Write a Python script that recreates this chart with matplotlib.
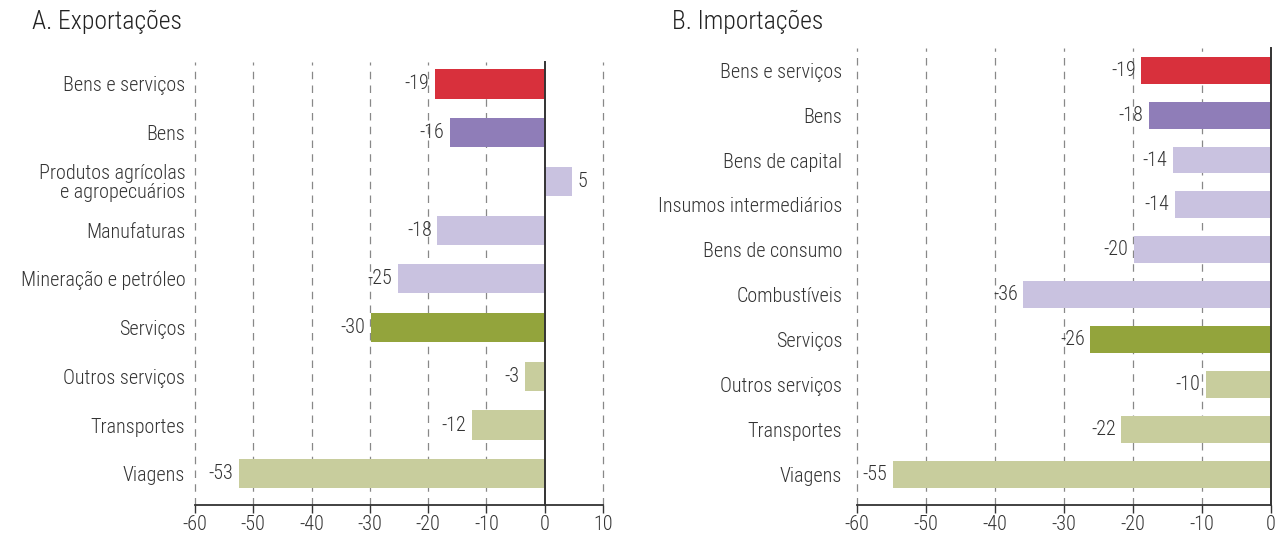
import matplotlib
matplotlib.use("Agg")
import matplotlib.pyplot as plt

plt.rcParams["font.family"] = ["Roboto Condensed", "DejaVu Sans"]
plt.rcParams["font.weight"] = "light"

RED = "#d8303c"
PURPLE = "#8f7db8"
LPURPLE = "#c9c2e0"
OLIVE = "#93a43c"
LOLIVE = "#c8cd9d"
TXT = "#333333"

# A. Exportações
exp_cats = ["Bens e serviços", "Bens", "Produtos agrícolas\ne agropecuários", "Manufaturas",
            "Mineração e petróleo", "Serviços", "Outros serviços", "Transportes", "Viagens"]
exp_vals = [-18.9, -16.3, 4.6, -18.4, -25.2, -29.8, -3.4, -12.5, -52.5]
exp_labels = ["-19", "-16", "5", "-18", "-25", "-30", "-3", "-12", "-53"]
exp_colors = [RED, PURPLE, LPURPLE, LPURPLE, LPURPLE, OLIVE, LOLIVE, LOLIVE, LOLIVE]
exp_ticks = [-60, -50, -40, -30, -20, -10, 0, 10]

# B. Importações
imp_cats = ["Bens e serviços", "Bens", "Bens de capital", "Insumos intermediários",
            "Bens de consumo", "Combustíveis", "Serviços", "Outros serviços", "Transportes", "Viagens"]
imp_vals = [-18.8, -17.7, -14.2, -13.9, -19.9, -35.9, -26.2, -9.4, -21.7, -54.8]
imp_labels = ["-19", "-18", "-14", "-14", "-20", "-36", "-26", "-10", "-22", "-55"]
imp_colors = [RED, PURPLE, LPURPLE, LPURPLE, LPURPLE, LPURPLE, OLIVE, LOLIVE, LOLIVE, LOLIVE]
imp_ticks = [-60, -50, -40, -30, -20, -10, 0]

W, H = 1276, 533
fig = plt.figure(figsize=(W / 100, H / 100), dpi=100)
FS = 14.5


def panel(rect, cats, vals, labels, colors, ticks, title, title_x, top_pad, bot_pad, ypad):
    ax = fig.add_axes(rect)
    n = len(cats)
    y = list(range(n))
    ax.barh(y, vals, height=0.6, color=colors, zorder=3)
    ax.set_ylim(n - 1 + bot_pad, -top_pad)
    ax.set_xlim(ticks[0], ticks[-1])
    ax.set_xticks(ticks)
    ax.set_xticklabels([str(t) for t in ticks], fontsize=FS, color=TXT)
    ax.set_yticks(y)
    ax.set_yticklabels(cats, fontsize=FS, color=TXT, linespacing=1.0)
    ax.tick_params(axis="y", length=0, pad=ypad)
    ax.tick_params(axis="x", length=6, width=1, color=TXT, direction="out", pad=1)
    for t in ticks:
        if t != 0:
            ax.axvline(t, color="#888888", lw=0.9, ls=(0, (6, 5)), zorder=1, clip_on=False)
    ax.axvline(0, color=TXT, lw=1.4, zorder=4, clip_on=False)
    for s in ["top", "right", "left"]:
        ax.spines[s].set_visible(False)
    ax.spines["bottom"].set_color(TXT)
    ax.spines["bottom"].set_linewidth(1.3)
    for yi, v, lab in zip(y, vals, labels):
        off = -4 if v < 0 else 4
        ax.annotate(lab, (v, yi), xytext=(off, 0), textcoords="offset points",
                    ha="right" if v < 0 else "left", va="center",
                    fontsize=FS, color=TXT, zorder=5)
    fig.text(title_x, 1 - 22 / H, title, fontsize=18.5,
             color="#222222", va="center", ha="left")
    return ax


panel([195 / W, 1 - 505 / H, (603 - 195) / W, (505 - 62) / H],
      exp_cats, exp_vals, exp_labels, exp_colors, exp_ticks,
      "A. Exportações", 32 / W, 0.45, 0.64, 7)
panel([857 / W, 1 - 505 / H, (1271 - 857) / W, (505 - 48) / H],
      imp_cats, imp_vals, imp_labels, imp_colors, imp_ticks,
      "B. Importações", 672 / W, 0.49, 0.67, 10.5)

fig.savefig("out.png", dpi=100)
